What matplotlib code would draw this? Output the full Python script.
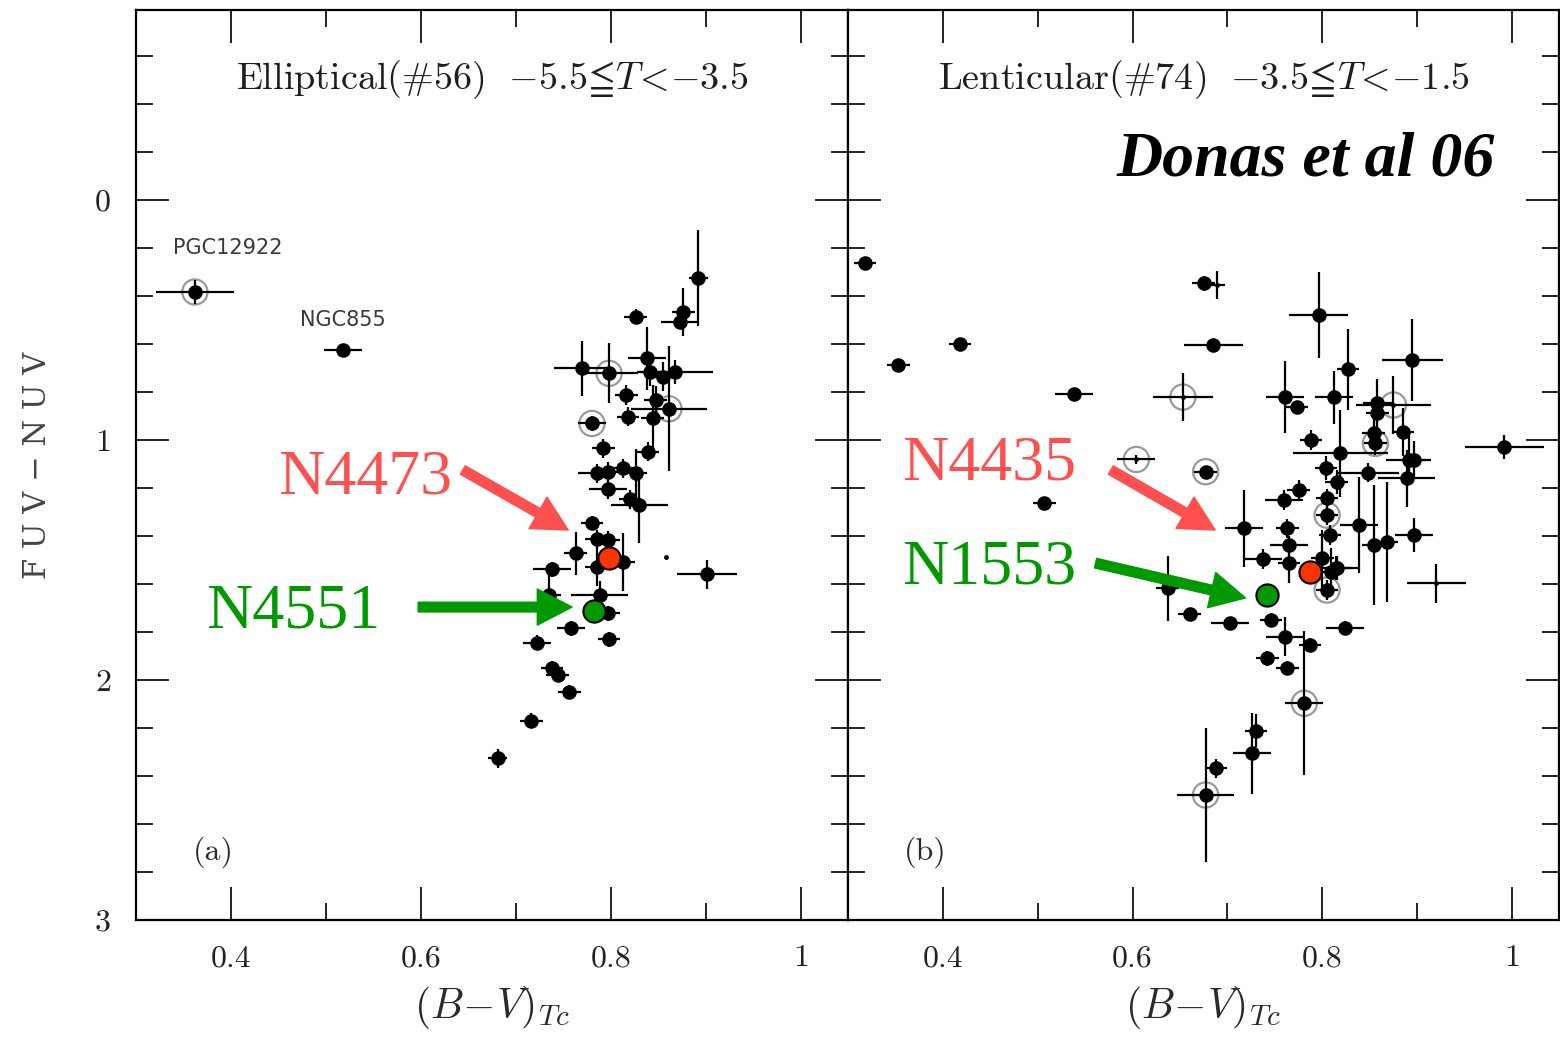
import numpy as np
import matplotlib.pyplot as plt
from matplotlib.ticker import MultipleLocator, FixedLocator, FixedFormatter

plt.rcParams['mathtext.fontset'] = 'cm'

# ---- Elliptical panel (a) ----
# kind: f = filled, r = filled + ring, o = ring with small dot, s = small dot
ell_bv = [0.362, 0.518, 0.892, 0.826, 0.876, 0.873, 0.770, 0.798, 0.838, 0.841,
          0.855, 0.867, 0.816, 0.847, 0.861, 0.818, 0.844, 0.780, 0.792, 0.839,
          0.785, 0.797, 0.813, 0.826, 0.797, 0.820, 0.830, 0.780, 0.785, 0.797,
          0.763, 0.813, 0.785, 0.738, 0.901, 0.735, 0.788, 0.797, 0.758, 0.798,
          0.722, 0.738, 0.744, 0.756, 0.716, 0.681, 0.858]
ell_fuv = [0.383, 0.625, 0.325, 0.486, 0.465, 0.507, 0.701, 0.722, 0.660, 0.715,
           0.736, 0.715, 0.812, 0.833, 0.870, 0.903, 0.910, 0.931, 1.035, 1.049,
           1.139, 1.132, 1.118, 1.136, 1.206, 1.247, 1.271, 1.345, 1.414, 1.417,
           1.472, 1.507, 1.528, 1.539, 1.560, 1.646, 1.646, 1.722, 1.785, 1.831,
           1.844, 1.949, 1.979, 2.049, 2.169, 2.326, 1.489]
ell_bv_err = [0.041, 0.020, 0.010, 0.012, 0.012, 0.020, 0.030, 0.030, 0.020, 0.012,
              0.012, 0.040, 0.012, 0.012, 0.040, 0.012, 0.012, 0.015, 0.012, 0.012,
              0.020, 0.012, 0.012, 0.012, 0.020, 0.012, 0.030, 0.012, 0.012, 0.012,
              0.012, 0.012, 0.012, 0.020, 0.032, 0.012, 0.030, 0.012, 0.015, 0.012,
              0.015, 0.012, 0.012, 0.012, 0.012, 0.010, 0.0]
ell_fuv_err = [0.05, 0.02, 0.20, 0.03, 0.10, 0.03, 0.115, 0.125, 0.13, 0.06,
               0.06, 0.05, 0.04, 0.06, 0.26, 0.04, 0.14, 0.03, 0.04, 0.04,
               0.04, 0.04, 0.04, 0.10, 0.04, 0.04, 0.16, 0.03, 0.04, 0.04,
               0.09, 0.12, 0.08, 0.03, 0.06, 0.10, 0.06, 0.03, 0.03, 0.03,
               0.03, 0.03, 0.03, 0.03, 0.03, 0.04, 0.0]
ell_kind = ['r', 'f', 'f', 'f', 'f', 'f', 'f', 'r', 'f', 'f',
            'f', 'f', 'f', 'f', 'r', 'f', 'f', 'r', 'f', 'f',
            'f', 'f', 'f', 'f', 'f', 'f', 'f', 'f', 'f', 'f',
            'f', 'f', 'f', 'f', 'f', 'f', 'f', 'f', 'f', 'f',
            'f', 'f', 'f', 'f', 'f', 'f', 's']

# ---- Lenticular panel (b) ----
s0_bv = [0.318, 0.353, 0.418, 0.538, 0.507, 0.653, 0.604, 0.677, 0.675, 0.689,
         0.685, 0.796, 0.827, 0.895, 0.761, 0.773, 0.812, 0.858, 0.875, 0.858,
         0.788, 0.819, 0.854, 0.856, 0.885, 0.891, 0.897, 0.992, 0.804, 0.815,
         0.848, 0.889, 0.775, 0.805, 0.760, 0.805, 0.839, 0.897, 0.717, 0.763,
         0.808, 0.854, 0.868, 0.765, 0.737, 0.765, 0.800, 0.814, 0.920, 0.805,
         0.637, 0.660, 0.703, 0.746, 0.761, 0.787, 0.824, 0.742, 0.763, 0.781,
         0.730, 0.726, 0.688, 0.677, 0.809, 0.816]
s0_fuv = [0.263, 0.688, 0.600, 0.808, 1.263, 0.821, 1.081, 1.132, 0.347, 0.354,
          0.604, 0.479, 0.706, 0.667, 0.820, 0.864, 0.822, 0.847, 0.854, 0.889,
          1.000, 1.056, 0.972, 1.014, 0.965, 1.083, 1.083, 1.028, 1.118, 1.174,
          1.136, 1.160, 1.208, 1.243, 1.250, 1.313, 1.354, 1.396, 1.368, 1.368,
          1.396, 1.438, 1.424, 1.438, 1.496, 1.514, 1.493, 1.535, 1.597, 1.625,
          1.618, 1.726, 1.761, 1.750, 1.819, 1.854, 1.782, 1.910, 1.951, 2.097,
          2.211, 2.306, 2.368, 2.479, 1.549, 1.533]
s0_bv_err = [0.012, 0.012, 0.012, 0.020, 0.012, 0.032, 0.020, 0.012, 0.012, 0.008,
             0.031, 0.031, 0.012, 0.032, 0.020, 0.012, 0.020, 0.015, 0.040, 0.012,
             0.012, 0.050, 0.012, 0.012, 0.012, 0.024, 0.012, 0.042, 0.012, 0.012,
             0.033, 0.030, 0.012, 0.012, 0.020, 0.012, 0.020, 0.020, 0.020, 0.012,
             0.012, 0.012, 0.012, 0.020, 0.020, 0.012, 0.012, 0.025, 0.031, 0.012,
             0.012, 0.012, 0.020, 0.012, 0.020, 0.012, 0.020, 0.012, 0.012, 0.020,
             0.012, 0.020, 0.012, 0.030, 0.012, 0.015]
s0_fuv_err = [0.02, 0.02, 0.02, 0.02, 0.02, 0.10, 0.02, 0.02, 0.03, 0.06,
              0.02, 0.18, 0.17, 0.17, 0.15, 0.02, 0.11, 0.10, 0.12, 0.04,
              0.04, 0.18, 0.06, 0.05, 0.10, 0.10, 0.08, 0.05, 0.05, 0.05,
              0.04, 0.12, 0.04, 0.04, 0.04, 0.04, 0.20, 0.07, 0.16, 0.04,
              0.04, 0.25, 0.25, 0.04, 0.04, 0.08, 0.12, 0.05, 0.08, 0.04,
              0.135, 0.02, 0.02, 0.03, 0.08, 0.03, 0.03, 0.03, 0.03, 0.30,
              0.07, 0.17, 0.04, 0.28, 0.10, 0.05]
s0_kind = ['f', 'f', 'f', 'f', 'f', 'o', 'o', 'r', 'f', 's',
           'f', 'f', 'f', 'f', 'f', 'f', 'f', 'f', 'o', 'f',
           'f', 'f', 'f', 'r', 'f', 'f', 'f', 'f', 'f', 'f',
           'f', 'f', 'f', 'f', 'f', 'r', 'f', 'f', 'f', 'f',
           'f', 'f', 'f', 'f', 'f', 'f', 'f', 'f', 's', 'r',
           'f', 'f', 'f', 'f', 'f', 'f', 'f', 'f', 'f', 'r',
           'f', 'f', 'f', 'r', 'f', 'f']

# highlighted galaxies: (name, B-V, FUV-NUV)
ell_red = ('N4473', 0.798, 1.493)
ell_green = ('N4551', 0.782, 1.711)
s0_red = ('N4435', 0.787, 1.551)
s0_green = ('N1553', 0.742, 1.646)

titles = [r'$\mathrm{Elliptical(\#56)}\ \ {-}5.5\!\leqq\! T\!<\!{-}3.5$',
          r'$\mathrm{Lenticular(\#74)}\ \ {-}3.5\!\leqq\! T\!<\!{-}1.5$']
panel_tags = ['(a)', '(b)']

RED_TXT = '#ff5050'
RED_DOT = '#ff3300'
GREEN = '#009900'

fig = plt.figure(figsize=(15.6, 10.37), dpi=100)
ax1 = fig.add_axes([136 / 1560, 117 / 1037, 712 / 1560, 910 / 1037])
ax2 = fig.add_axes([848 / 1560, 117 / 1037, 711 / 1560, 910 / 1037])


def draw_points(ax, bv, fuv, bverr, fuverr, kind):
    bv = np.array(bv); fuv = np.array(fuv)
    bverr = np.array(bverr); fuverr = np.array(fuverr)
    kind = np.array(kind)
    ax.errorbar(bv, fuv, xerr=bverr, yerr=fuverr, fmt='none', ecolor='k',
                elinewidth=1.6, capsize=0, zorder=3)
    big = (kind == 'f') | (kind == 'r')
    ax.plot(bv[big], fuv[big], 'o', color='k', ms=10.5, mew=0, zorder=4)
    small = (kind == 'o') | (kind == 's')
    ax.plot(bv[small], fuv[small], 'o', color='k', ms=3.5, mew=0, zorder=4)
    ring = (kind == 'r') | (kind == 'o')
    ax.scatter(bv[ring], fuv[ring], s=330, facecolors='none',
               edgecolors='#9a9a9a', linewidths=1.6, zorder=2)


draw_points(ax1, ell_bv, ell_fuv, ell_bv_err, ell_fuv_err, ell_kind)
draw_points(ax2, s0_bv, s0_fuv, s0_bv_err, s0_fuv_err, s0_kind)

# labels of the two outliers in panel (a)
ax1.text(0.397, 0.2, 'PGC12922', fontsize=15, color='#3a3a3a',
         ha='center', va='center')
ax1.text(0.518, 0.5, 'NGC855', fontsize=15, color='#3a3a3a',
         ha='center', va='center')

# highlighted galaxies with arrows
arrow_red = dict(width=7, headwidth=26, headlength=25, color=RED_TXT, shrink=0)
arrow_green = dict(width=7, headwidth=26, headlength=25, color=GREEN, shrink=0)

ax1.plot(ell_red[1], ell_red[2], 'o', ms=16, color=RED_DOT, mec='k', mew=1.5, zorder=6)
ax1.plot(ell_green[1], ell_green[2], 'o', ms=16, color=GREEN, mec='k', mew=1.5, zorder=6)
ax2.plot(s0_red[1], s0_red[2], 'o', ms=16, color=RED_DOT, mec='k', mew=1.5, zorder=6)
ax2.plot(s0_green[1], s0_green[2], 'o', ms=16, color=GREEN, mec='k', mew=1.5, zorder=6)

ax1.annotate('', xy=(0.755, 1.375), xytext=(0.644, 1.125), arrowprops=arrow_red, zorder=5)
ax1.annotate('', xy=(0.759, 1.696), xytext=(0.597, 1.696), arrowprops=arrow_green, zorder=5)
ax2.annotate('', xy=(0.687, 1.375), xytext=(0.577, 1.125), arrowprops=arrow_red, zorder=5)
ax2.annotate('', xy=(0.719, 1.658), xytext=(0.561, 1.513), arrowprops=arrow_green, zorder=5)

lab = dict(fontsize=46, family='Liberation Serif', ha='right', va='center')
ax1.text(0.633, 1.16, ell_red[0], color=RED_TXT, **lab)
ax1.text(0.557, 1.72, ell_green[0], color=GREEN, **lab)
ax2.text(0.541, 1.10, s0_red[0], color=RED_TXT, **lab)
ax2.text(0.541, 1.535, s0_green[0], color=GREEN, **lab)

ax2.text(0.91, 0.835, 'Donas et al 06', transform=ax2.transAxes, fontsize=46,
         family='Liberation Serif', weight='bold', style='italic',
         ha='right', va='center', color='k')

for ax, title, tag in zip([ax1, ax2], titles, panel_tags):
    ax.set_xlim(0.3, 1.0495)
    ax.set_ylim(3.0, -0.792)
    ax.xaxis.set_major_locator(FixedLocator([0.4, 0.6, 0.8, 1.0]))
    ax.xaxis.set_major_formatter(FixedFormatter(['0.4', '0.6', '0.8', '1']))
    ax.xaxis.set_minor_locator(MultipleLocator(0.1))
    ax.yaxis.set_major_locator(MultipleLocator(1))
    ax.yaxis.set_minor_locator(MultipleLocator(0.2))
    ax.tick_params(which='both', direction='in', top=True, right=True,
                   width=1.4, colors='#222222')
    ax.tick_params(which='major', length=24, labelsize=23, pad=18)
    ax.tick_params(which='minor', length=12)
    for lbl in ax.get_xticklabels() + ax.get_yticklabels():
        lbl.set_family('cmr10')
    for sp in ax.spines.values():
        sp.set_linewidth(1.6)
    ax.text(0.5, 0.923, title, transform=ax.transAxes, fontsize=27.5,
            ha='center', va='center', color='#1e1e1e')
    ax.text(0.108, 0.075, tag, transform=ax.transAxes, fontsize=23,
            ha='center', va='center', color='#2a2a2a', family='cmr10')
    ax.set_xlabel(r'$(B\!-\!V)_{Tc}$', fontsize=30, color='#2a2a2a', labelpad=8)

ax2.tick_params(axis='y', which='both', labelleft=False)
ax1.set_ylabel('F U V − N U V', fontsize=22, color='#444444', family='DejaVu Serif',
               labelpad=30)

fig.savefig('out.png', dpi=100)
